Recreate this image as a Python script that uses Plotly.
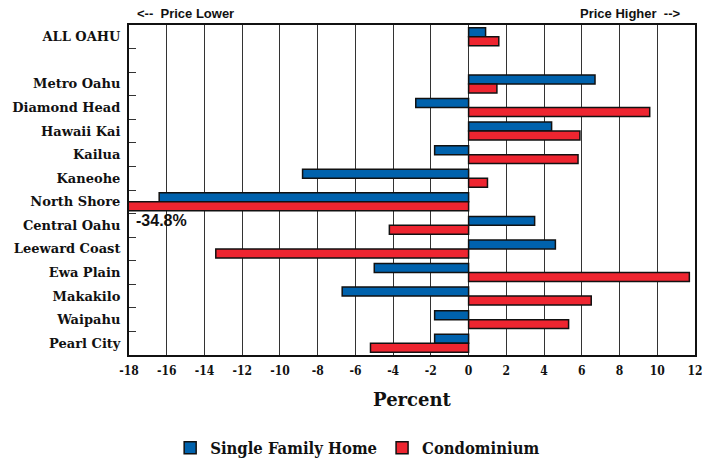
import plotly.graph_objects as go

# Regions (a blank slot separates the island-wide total from the regions)
regions = ["ALL OAHU", " ", "Metro Oahu", "Diamond Head", "Hawaii Kai", "Kailua",
           "Kaneohe", "North Shore", "Central Oahu", "Leeward Coast", "Ewa Plain",
           "Makakilo", "Waipahu", "Pearl City"]

# Percent change in median price
single_family = [0.9, None, 6.7, -2.8, 4.4, -1.8, -8.8, -16.4, 3.5, 4.6, -5.0, -6.7, -1.8, -1.8]
condominium = [1.6, None, 1.5, 9.6, 5.9, 5.8, 1.0, -34.8, -4.2, -13.4, 11.7, 6.5, 5.3, -5.2]

x_ticks = list(range(-18, 13, 2))

SERIF = "DejaVu Serif"
SERIF_NARROW = "DejaVu Serif Condensed, DejaVu Serif"
SANS = "Liberation Sans"
BLUE = "#0062AD"
RED = "#EE2530"
INK = "#111111"

fig = go.Figure()
fig.add_trace(go.Bar(
    y=regions, x=single_family, orientation="h", name="Single Family Home",
    marker=dict(color=BLUE, line=dict(color=INK, width=1.5)),
))
fig.add_trace(go.Bar(
    y=regions, x=condominium, orientation="h", name="Condominium",
    marker=dict(color=RED, line=dict(color=INK, width=1.5)),
))

fig.update_layout(
    width=702, height=460,
    margin=dict(l=129, r=7, t=25, b=105, autoexpand=False),
    paper_bgcolor="white", plot_bgcolor="white",
    barmode="group", bargap=0.24, bargroupgap=0.0,
    font=dict(family=SERIF, color=INK),
    legend=dict(
        orientation="h", x=0.404, xanchor="center", y=-0.282, yanchor="middle",
        font=dict(family=SERIF_NARROW, size=16.5, weight="bold", color=INK),
        traceorder="normal",
    ),
    xaxis=dict(
        range=[-18, 12], tickvals=x_ticks, ticktext=[str(v) for v in x_ticks],
        showgrid=True, gridcolor="#333333", gridwidth=1, automargin=False,
        zeroline=False, showline=True, linecolor=INK, linewidth=2, mirror=True,
        ticks="", ticklabeloverflow="allow", ticklabelstandoff=4,
        tickfont=dict(family=SERIF_NARROW, size=12, weight="bold", color=INK),
        title=dict(text="Percent", standoff=16,
                   font=dict(family=SERIF, size=18, weight="bold", color=INK)),
    ),
    yaxis=dict(
        categoryorder="array", categoryarray=regions, autorange="reversed",
        showgrid=False, zeroline=False, showline=True, linecolor=INK, automargin=False,
        linewidth=2, mirror=True, ticks="inside", ticklen=7, tickcolor="#333333",
        tickson="boundaries", ticklabelstandoff=4,
        tickfont=dict(family=SERIF, size=13, weight="bold", color=INK),
    ),
)

annotations = [
    dict(text="<--  Price Lower", xref="paper", yref="paper", x=0.01, y=1.0,
         xanchor="left", yanchor="bottom", yshift=2, showarrow=False,
         font=dict(family=SANS, size=13, weight="bold", color=INK)),
    dict(text="Price Higher  -->", xref="paper", yref="paper", x=0.977, y=1.0,
         xanchor="right", yanchor="bottom", yshift=2, showarrow=False,
         font=dict(family=SANS, size=13, weight="bold", color=INK)),
    dict(text="-34.8%", xref="x", yref="y", x=-18, y="North Shore",
         xanchor="left", yanchor="middle", xshift=5, yshift=-19, showarrow=False,
         font=dict(family=SANS, size=16, weight="bold", color=INK)),
]
fig.update_layout(annotations=annotations)

fig.write_html("out.html")
